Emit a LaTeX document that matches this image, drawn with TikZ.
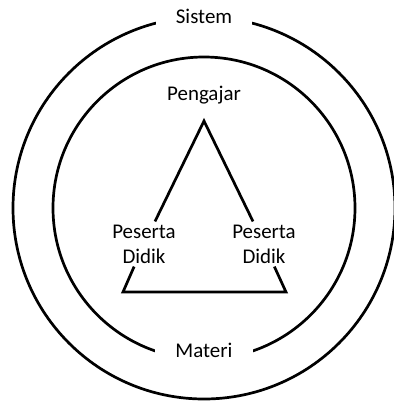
\documentclass[tikz,border=0pt]{standalone}
\usepackage{fontspec}
\setmainfont{Carlito}
\usepackage{tikz}
\usetikzlibrary{positioning}

\begin{document}
\begin{tikzpicture}[x=1bp, y=1bp, line width=2.7bp,
    lbl/.style={font=\fontsize{21}{25}\selectfont, align=center, inner sep=2bp},
    gap/.style={lbl, fill=white, inner xsep=20bp, inner ysep=5bp}]
    \useasboundingbox (0,0) rectangle (394,402);
    \coordinate (mid) at (204,194);
    \draw (mid) circle (191bp);
    \draw (mid) circle (151bp);
    \node[gap, anchor=base] (sistem) at (204,379) {Sistem};
    \node[gap, anchor=base] (materi) at (204,45) {Materi};
    \node[lbl, anchor=base] (pengajar) at (204,302) {Pengajar};
    \coordinate (apex) at (204,281);
    \coordinate (kiri) at (123,110);
    \coordinate (kanan) at (286,110);
    \node[lbl] (pdkiri) at (144,158) {Peserta\\Didik};
    \node[lbl] (pdkanan) at (264,158) {Peserta\\Didik};
    \draw (pdkiri) -- (kiri) -- (kanan) -- (pdkanan);
    \draw (pdkanan) -- (apex) -- (pdkiri);
\end{tikzpicture}
\end{document}
